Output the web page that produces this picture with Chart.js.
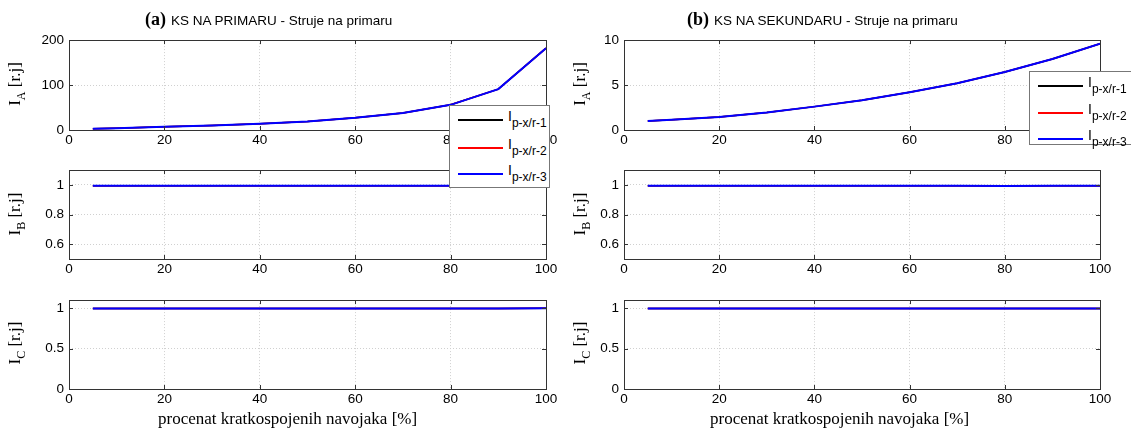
<!DOCTYPE html>
<html>
<head>
<meta charset="utf-8">
<script src="https://cdn.jsdelivr.net/npm/chart.js@4.4.1/dist/chart.umd.min.js"></script>
<style>
    html, body { margin: 0; padding: 0; background: #fff; }
    #page { position: relative; width: 1131px; height: 434px; overflow: hidden; background: #fff; }
    canvas { position: absolute; }
    .title { position: absolute; top: 9px; white-space: nowrap; font: 13.5px 'Liberation Sans', Arial, sans-serif; line-height: 22px; }
    .title b { font: bold 18px 'Liberation Serif', 'Times New Roman', serif; margin-right: 5px; }
    .ylabel { position: absolute; white-space: nowrap; font: 17px 'Liberation Serif', 'Times New Roman', serif; line-height: 18px;
              transform: translate(-50%, -50%) rotate(-90deg); }
    .ylabel sub { font-size: 12px; vertical-align: -5px; }
    .xlabel { position: absolute; top: 409px; white-space: nowrap; font: 17px 'Liberation Serif', 'Times New Roman', serif; line-height: 20px; }
    .legend { position: absolute; background: #fff; border: 1px solid #777; box-sizing: border-box; z-index: 5; }
    .legend .sample { position: absolute; left: 8px; width: 45px; height: 2px; }
    .legend .lab { position: absolute; left: 58px; white-space: nowrap; color: #000; font: 14px 'Liberation Sans', Arial, sans-serif; line-height: 14px; }
    .legend .lab sub { font-size: 12px; vertical-align: -6px; line-height: 0; }
</style>
</head>
<body>
<div id="page">
    <canvas id="iaPrimarChart"></canvas>
    <canvas id="ibPrimarChart"></canvas>
    <canvas id="icPrimarChart"></canvas>
    <canvas id="iaSekundarChart"></canvas>
    <canvas id="ibSekundarChart"></canvas>
    <canvas id="icSekundarChart"></canvas>

    <div class="title" style="left:145px"><b>(a)</b>KS NA PRIMARU - Struje na primaru</div>
    <div class="title" style="left:687px"><b>(b)</b>KS NA SEKUNDARU - Struje na primaru</div>

    <div class="ylabel" style="left:18px;top:84px">I<sub>A</sub> [r.j]</div>
    <div class="ylabel" style="left:18px;top:214px">I<sub>B</sub> [r.j]</div>
    <div class="ylabel" style="left:18px;top:343px">I<sub>C</sub> [r.j]</div>
    <div class="ylabel" style="left:583px;top:84px">I<sub>A</sub> [r.j]</div>
    <div class="ylabel" style="left:583px;top:214px">I<sub>B</sub> [r.j]</div>
    <div class="ylabel" style="left:583px;top:343px">I<sub>C</sub> [r.j]</div>

    <div class="xlabel" style="left:158px">procenat kratkospojenih navojaka [%]</div>
    <div class="xlabel" style="left:710px">procenat kratkospojenih navojaka [%]</div>

    <div class="legend" id="legendPrimar" style="left:449px;top:105px;width:101px;height:83px"></div>
    <div class="legend" id="legendSekundar" style="left:1029px;top:71px;width:104px;height:74px"></div>
</div>

<script>
// Percentage of shorted turns (x axis)
const procenat = [5, 10, 20, 30, 40, 50, 60, 70, 80, 90, 100];

// (a) short circuit on primary - phase currents [p.u.]
const iaPrimar = [2.8, 4, 7, 10, 14, 19, 27, 38, 56, 91, 182];
const ibPrimar = [0.995, 0.995, 0.995, 0.995, 0.995, 0.995, 0.995, 0.995, 0.994, 0.995, 0.995];
const icPrimar = [0.995, 0.995, 0.995, 0.995, 0.995, 0.995, 0.995, 0.995, 0.995, 0.995, 0.998];

// (b) short circuit on secondary - primary currents [p.u.]
const iaSekundar = [1.0, 1.15, 1.45, 1.95, 2.6, 3.3, 4.2, 5.2, 6.45, 7.9, 9.6];
const ibSekundar = [0.995, 0.995, 0.995, 0.995, 0.995, 0.995, 0.995, 0.995, 0.993, 0.995, 0.995];
const icSekundar = [0.995, 0.995, 0.995, 0.995, 0.995, 0.995, 0.995, 0.995, 0.995, 0.995, 0.995];

// Series (the three models overlap, blue drawn on top)
const seriesNames = ['p-x/r-1', 'p-x/r-2', 'p-x/r-3'];
const seriesColors = ['#000000', '#ff0000', '#0000ff'];
const seriesWidths = [1.5, 1.5, 2];

// Tick labels
const xTicks = [0, 20, 40, 60, 80, 100];
const iaPrimarTicks = [0, 100, 200];
const iaSekundarTicks = [0, 5, 10];
const ibTicks = [0.6, 0.8, 1];
const icTicks = [0, 0.5, 1];

// Axis box + inward ticks, matlab style
const boxPlugin = {
    id: 'box',
    afterDatasetsDraw(chart) {
        const { ctx, chartArea: a, scales } = chart;
        ctx.save();
        ctx.strokeStyle = '#333';
        ctx.lineWidth = 1;
        ctx.beginPath();
        scales.x.ticks.forEach(t => {
            const px = Math.round(scales.x.getPixelForValue(t.value)) + 0.5;
            ctx.moveTo(px, a.bottom); ctx.lineTo(px, a.bottom - 4);
            ctx.moveTo(px, a.top); ctx.lineTo(px, a.top + 4);
        });
        scales.y.ticks.forEach(t => {
            const py = Math.round(scales.y.getPixelForValue(t.value)) + 0.5;
            ctx.moveTo(a.left, py); ctx.lineTo(a.left + 4, py);
            ctx.moveTo(a.right, py); ctx.lineTo(a.right - 4, py);
        });
        ctx.stroke();
        ctx.strokeRect(Math.round(a.left) + 0.5, Math.round(a.top) + 0.5,
            Math.round(a.right - a.left), Math.round(a.bottom - a.top));
        ctx.restore();
    }
};

const YW = 50, PT = 10, PR = 16, XH = 22;
const tickFont = { family: "'Liberation Sans', Arial, sans-serif", size: 13.5 };

function makeChart(id, plot, values, yMin, yMax, yTicks) {
    const canvas = document.getElementById(id);
    canvas.width = YW + plot.w + PR;
    canvas.height = PT + plot.h + XH;
    canvas.style.left = (plot.x - YW) + 'px';
    canvas.style.top = (plot.y - PT) + 'px';

    const datasets = seriesNames.map((name, s) => ({
        label: name,
        data: procenat.map((x, i) => ({ x: x, y: values[i] })),
        borderColor: seriesColors[s],
        borderWidth: seriesWidths[s],
        order: seriesNames.length - s,   // last series on top
        pointRadius: 0,
        tension: 0,
        fill: false
    }));

    return new Chart(canvas.getContext('2d'), {
        type: 'line',
        data: { datasets: datasets },
        options: {
            responsive: false,
            animation: false,
            devicePixelRatio: 1,
            layout: { padding: { top: PT, right: PR, left: 0, bottom: 0 } },
            plugins: { legend: { display: false }, tooltip: { enabled: false } },
            scales: {
                x: {
                    type: 'linear',
                    min: 0,
                    max: 100,
                    afterBuildTicks: scale => { scale.ticks = xTicks.map(v => ({ value: v })); },
                    afterFit: scale => { scale.height = XH; },
                    grid: { color: '#d0d0d0', drawTicks: false },
                    border: { display: false, dash: [1, 2] },
                    ticks: { font: tickFont, color: '#000', padding: 2, maxRotation: 0, autoSkip: false,
                             callback: v => String(v) }
                },
                y: {
                    type: 'linear',
                    min: yMin,
                    max: yMax,
                    afterBuildTicks: scale => { scale.ticks = yTicks.map(v => ({ value: v })); },
                    afterFit: scale => { scale.width = YW; },
                    grid: { color: '#d0d0d0', drawTicks: false },
                    border: { display: false, dash: [1, 2] },
                    ticks: { font: tickFont, color: '#000', padding: 5, autoSkip: false,
                             callback: v => String(v) }
                }
            }
        },
        plugins: [boxPlugin]
    });
}

// Legend with subscripts (html so the text stays real text)
function buildLegend(id, rowsY) {
    const box = document.getElementById(id);
    seriesNames.forEach((name, s) => {
        const line = document.createElement('div');
        line.className = 'sample';
        line.style.top = rowsY[s] + 'px';
        line.style.background = seriesColors[s];
        box.appendChild(line);

        const lab = document.createElement('div');
        lab.className = 'lab';
        lab.style.top = (rowsY[s] - 10) + 'px';
        lab.innerHTML = 'I<sub>' + name + '</sub>';
        box.appendChild(lab);
    });
}

document.addEventListener('DOMContentLoaded', function() {
    const left = { x: 69, w: 477 };
    const right = { x: 624, w: 476 };
    const rows = [{ y: 37, h: 93 }, { y: 167, h: 92 }, { y: 297, h: 92 }];

    makeChart('iaPrimarChart', { ...left, ...rows[0] }, iaPrimar, 0, 200, iaPrimarTicks);
    makeChart('ibPrimarChart', { ...left, ...rows[1] }, ibPrimar, 0.5, 1.1, ibTicks);
    makeChart('icPrimarChart', { ...left, ...rows[2] }, icPrimar, 0, 1.1, icTicks);
    makeChart('iaSekundarChart', { ...right, ...rows[0] }, iaSekundar, 0, 10, iaSekundarTicks);
    makeChart('ibSekundarChart', { ...right, ...rows[1] }, ibSekundar, 0.5, 1.1, ibTicks);
    makeChart('icSekundarChart', { ...right, ...rows[2] }, icSekundar, 0, 1.1, icTicks);

    buildLegend('legendPrimar', [13, 41, 67]);
    buildLegend('legendSekundar', [13, 40, 66]);
});
</script>
</body>
</html>
